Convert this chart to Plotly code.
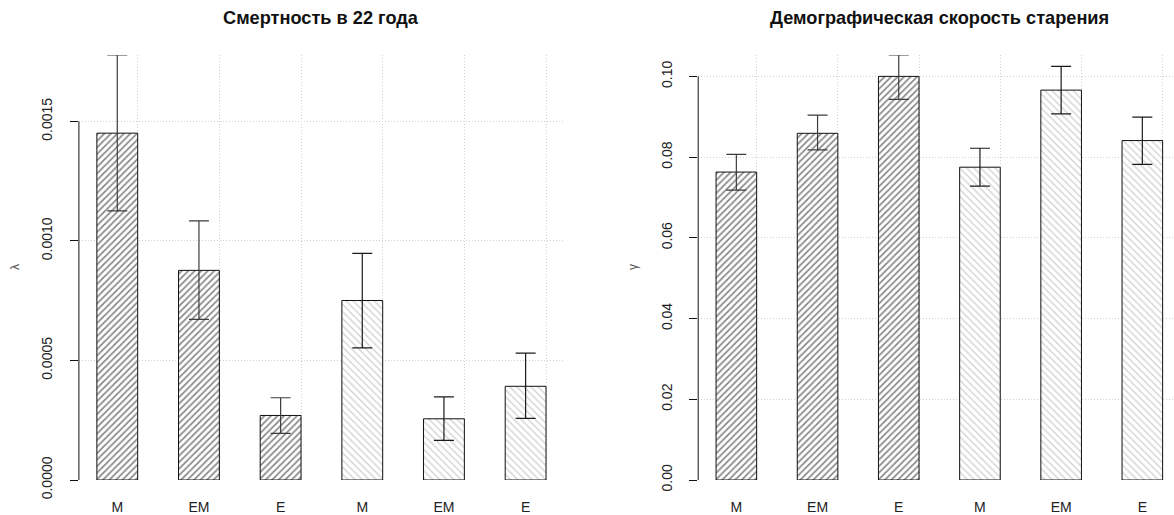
import plotly.graph_objects as go

# ---------------- data ----------------
groups = ["M", "EM", "E", "M", "EM", "E"]

mort = [0.001451, 0.000877, 0.000270, 0.000751, 0.000256, 0.000392]
mort_lo = [0.001126, 0.000672, 0.000195, 0.000553, 0.000166, 0.000258]
mort_hi = [0.001778, 0.001084, 0.000344, 0.000948, 0.000348, 0.000531]

gamma = [0.0763, 0.0859, 0.1000, 0.0775, 0.0966, 0.0841]
gamma_lo = [0.0718, 0.0818, 0.0943, 0.0728, 0.0907, 0.0782]
gamma_hi = [0.0807, 0.0904, 0.1053, 0.0822, 0.1025, 0.0899]

mort_ticks = [0.0, 0.0005, 0.0010, 0.0015]
mort_ticktext = ["0.0000", "0.0005", "0.0010", "0.0015"]
gamma_ticks = [0.0, 0.02, 0.04, 0.06, 0.08, 0.10]
gamma_ticktext = ["0.00", "0.02", "0.04", "0.06", "0.08", "0.10"]

titles = ["Смертность в 22 года", "Демографическая скорость старения"]
ylabels = ["λ", "γ"]

# ---------------- layout helpers ----------------
W, H = 1174, 515
centers = [2 * i + 1.5 for i in range(len(groups))]   # barplot(space=1) positions
edges = [c + 0.5 for c in centers]                      # R grid() vertical lines
FONT = "Liberation Sans, Arial, sans-serif"
GRID = "#d0d0d0"
DOT = "1px,2px"

def px_x(p):
    return p / W

def px_y(p):
    return (H - p) / H

ydom = [px_y(480), px_y(55)]
xdom1 = [px_x(78.9), px_x(564)]
xdom2 = [px_x(698.2), 1.0]

fig = go.Figure()

styles = [
    dict(shape="/", fg="#111111", sol=0.38, size=4.6, ebc="#3c3c3c"),
    dict(shape="\\", fg="#a6a6a6", sol=0.28, size=5.0, ebc="#1a1a1a"),
]

def add_panel(vals, lo, hi, xa, ya):
    for g, idx in enumerate([[0, 1, 2], [3, 4, 5]]):
        st = styles[g]
        fig.add_trace(go.Bar(
            x=[centers[i] for i in idx],
            y=[vals[i] for i in idx],
            width=1.0,
            xaxis=xa, yaxis=ya,
            marker=dict(
                color="white",
                line=dict(color="#111111", width=1),
                pattern=dict(shape=st["shape"], fgcolor=st["fg"], bgcolor="white",
                             size=st["size"], solidity=st["sol"], fillmode="overlay"),
            ),
            error_y=dict(
                type="data", symmetric=False,
                array=[hi[i] - vals[i] for i in idx],
                arrayminus=[vals[i] - lo[i] for i in idx],
                color=st["ebc"], thickness=1.2, width=10,
            ),
            cliponaxis=False,
            showlegend=False,
            hoverinfo="skip",
        ))

add_panel(mort, mort_lo, mort_hi, "x", "y")
add_panel(gamma, gamma_lo, gamma_hi, "x2", "y2")

def xaxis_cfg(dom, rng, anchor):
    return dict(
        domain=dom, range=rng, tickmode="array", tickvals=centers, ticktext=groups,
        showgrid=False, zeroline=False, showline=False, ticks="",
        ticklabelstandoff=17, automargin=False, anchor=anchor,
        tickfont=dict(family=FONT, size=14, color="#222222"),
        minor=dict(tickmode="array", tickvals=edges, showgrid=True, gridcolor=GRID,
                   griddash=DOT, gridwidth=1, ticks=""),
        fixedrange=True,
    )

def yaxis_cfg(dom, rng, tv, tt, anchor):
    return dict(
        domain=dom, range=rng, tickmode="array", tickvals=tv, ticktext=tt,
        tickangle=-90, ticks="outside", ticklen=8, tickcolor="#111111", tickwidth=1,
        showgrid=True, gridcolor=GRID, griddash=DOT, gridwidth=1,
        zeroline=False, showline=False, anchor=anchor, automargin=False,
        ticklabelstandoff=12,
        tickfont=dict(family=FONT, size=14, color="#222222"),
        fixedrange=True,
    )

fig.update_layout(
    width=W, height=H,
    margin=dict(l=0, r=0, t=0, b=0, autoexpand=False),
    paper_bgcolor="white", plot_bgcolor="white",
    bargap=0,
    xaxis=xaxis_cfg(xdom1, [0.56, 12.44], "y"),
    xaxis2=xaxis_cfg(xdom2, [0.56, 12.28], "y2"),
    yaxis=yaxis_cfg(ydom, [0, max(mort_hi)], mort_ticks, mort_ticktext, "x"),
    yaxis2=yaxis_cfg(ydom, [0, max(gamma_hi)], gamma_ticks, gamma_ticktext, "x2"),
)

# R-style y axis lines spanning only the tick range
for xr, yr, tv in [("x domain", "y", mort_ticks), ("x2 domain", "y2", gamma_ticks)]:
    fig.add_shape(type="line", xref=xr, yref=yr, x0=0, x1=0, y0=tv[0], y1=tv[-1],
                  line=dict(color="#111111", width=1))

# titles
for xr, t in [("x", titles[0]), ("x2", titles[1])]:
    fig.add_annotation(text="<b>" + t + "</b>", xref=xr, yref="paper",
                       x=6.5, y=px_y(18), showarrow=False,
                       font=dict(family=FONT, size=18.2, color="#111111"),
                       xanchor="center", yanchor="middle")

# y labels
for xp, lab in [(px_x(15), ylabels[0]), (px_x(633), ylabels[1])]:
    fig.add_annotation(text=lab, xref="paper", yref="paper", x=xp, y=px_y(267),
                       showarrow=False, textangle=-90,
                       font=dict(family=FONT, size=12, color="#555555"),
                       xanchor="center", yanchor="middle")

fig.write_html("out.html",
               config={"displayModeBar": False, "staticPlot": True},
               post_script="document.body.style.margin='0';document.body.style.overflow='hidden';")
